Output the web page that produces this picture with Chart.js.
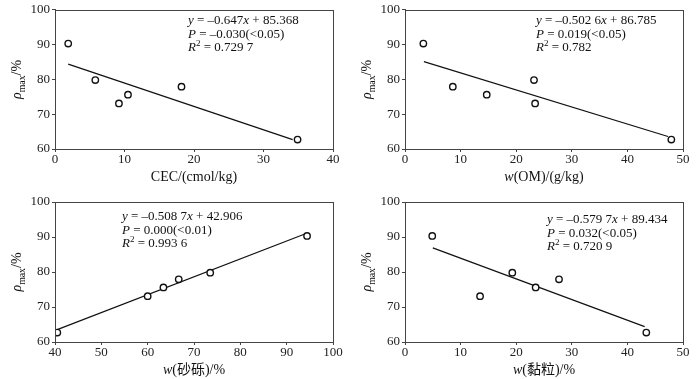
<!DOCTYPE html>
<html>
<head>
<meta charset="utf-8">
<script src="https://cdn.jsdelivr.net/npm/chart.js@4.4.1/dist/chart.umd.min.js"></script>
<style>
    body { margin: 0; background: #fff; width: 700px; height: 379px; position: relative; overflow: hidden; }
    canvas { position: absolute; }
</style>
</head>
<body>
<canvas id="c1" width="350" height="190" style="left:0;top:0"></canvas>
<canvas id="c2" width="350" height="190" style="left:350px;top:0"></canvas>
<canvas id="c3" width="350" height="189" style="left:0;top:190px"></canvas>
<canvas id="c4" width="350" height="189" style="left:350px;top:190px"></canvas>
<script>
// 6 个样点的 ρmax (%)
const rhoMax = [90.3, 79.8, 73.1, 75.6, 77.9, 62.7];
// 各因子
const cec  = [1.9, 5.8, 9.2, 10.5, 18.2, 34.9];
const om   = [3.3, 23.2, 23.4, 14.7, 8.6, 47.9];
const sand = [94.4, 73.5, 60.0, 63.4, 66.7, 40.5];
const clay = [4.9, 19.3, 13.5, 23.5, 27.7, 43.4];

// 拟合线端点
const cecFitX  = [1.9, 34.2],  cecFitY  = [84.4, 62.7];
const omFitX   = [3.4, 47.3],  omFitY   = [85.1, 63.6];
const sandFitX = [40.2, 94.2], sandFitY = [63.4, 91.0];
const clayFitX = [5.0, 43.1],  clayFitY = [86.9, 64.4];

// 刻度
const yTicks     = [60, 70, 80, 90, 100];
const cecTicks   = [0, 10, 20, 30, 40];
const omTicks    = [0, 10, 20, 30, 40, 50];
const sandTicks  = [40, 50, 60, 70, 80, 90, 100];
const clayTicks  = [0, 10, 20, 30, 40, 50];

const SERIF = '"Liberation Serif", "Times New Roman", serif, "Noto Sans CJK SC"';
const AXIS = '#444';

function fontOf(style, size) {
    return (style === 'i' ? 'italic ' : '') + size + 'px ' + SERIF;
}

function segSize(s, size) {
    return (s === 'sub' || s === 'sup') ? size * 0.7 : size;
}

function richWidth(ctx, segs, size) {
    let w = 0;
    segs.forEach(([t, s]) => {
        ctx.font = fontOf(s, segSize(s, size));
        w += ctx.measureText(t).width;
    });
    return w;
}

function drawRich(ctx, segs, x, y, size) {
    segs.forEach(([t, s]) => {
        ctx.font = fontOf(s, segSize(s, size));
        let dy = 0;
        if (s === 'sub') dy = size * 0.25;
        if (s === 'sup') dy = -size * 0.4;
        ctx.fillText(t, x, y + dy);
        x += ctx.measureText(t).width;
    });
}

const yTitle = [['ρ', 'i'], ['max', 'sub'], ['/%', '']];

// 边框、坐标轴标题、公式
const decorPlugin = {
    id: 'decor',
    afterDraw(chart, args, opts) {
        const ctx = chart.ctx;
        const a = chart.chartArea;
        ctx.save();
        ctx.strokeStyle = AXIS;
        ctx.lineWidth = 1;
        ctx.strokeRect(Math.round(a.left) + 0.5, Math.round(a.top) + 0.5,
            Math.round(a.right - a.left), Math.round(a.bottom - a.top));

        ctx.fillStyle = '#111';
        ctx.textBaseline = 'alphabetic';
        ctx.textAlign = 'left';

        // x 轴标题
        const xw = richWidth(ctx, opts.xTitle, 14);
        drawRich(ctx, opts.xTitle, (a.left + a.right) / 2 - xw / 2, a.bottom + 32, 14);

        // y 轴标题
        ctx.save();
        ctx.translate(21, (a.top + a.bottom) / 2);
        ctx.rotate(-Math.PI / 2);
        const yw = richWidth(ctx, yTitle, 14);
        drawRich(ctx, yTitle, -yw / 2, 0, 14);
        ctx.restore();

        // 公式
        opts.eq.forEach((line, i) => {
            drawRich(ctx, line, opts.eqX, opts.eqY + i * 13.5, 13);
        });
        ctx.restore();
    }
};

function makeChart(id, xs, fitX, fitY, xMin, xMax, xTicks, xTitle, eq, eqX, eqY, padTop, xHeight) {
    new Chart(document.getElementById(id), {
        type: 'scatter',
        data: {
            datasets: [{
                data: fitX.map((v, i) => ({ x: v, y: fitY[i] })),
                showLine: true,
                borderColor: '#111',
                borderWidth: 1.2,
                pointRadius: 0,
                order: 2
            }, {
                data: xs.map((v, i) => ({ x: v, y: rhoMax[i] })),
                pointRadius: 3.2,
                pointBorderWidth: 1.4,
                pointBorderColor: '#111',
                pointBackgroundColor: '#fff',
                order: 1
            }]
        },
        options: {
            responsive: false,
            animation: false,
            layout: { padding: { top: padTop, right: 17, left: 0, bottom: 0 } },
            plugins: {
                legend: { display: false },
                tooltip: { enabled: false },
                decor: { xTitle: xTitle, eq: eq, eqX: eqX, eqY: eqY }
            },
            scales: {
                x: {
                    type: 'linear',
                    min: xMin,
                    max: xMax,
                    afterBuildTicks: s => { s.ticks = xTicks.map(v => ({ value: v })); },
                    afterFit: s => { s.height = xHeight; },
                    grid: { drawOnChartArea: false, drawTicks: true, tickLength: 3, color: AXIS },
                    border: { color: AXIS },
                    ticks: { color: '#222', padding: 0, maxRotation: 0, font: { family: SERIF, size: 13 } }
                },
                y: {
                    min: 60,
                    max: 100,
                    afterBuildTicks: s => { s.ticks = yTicks.map(v => ({ value: v })); },
                    afterFit: s => { s.width = 55; },
                    grid: { drawOnChartArea: false, drawTicks: true, tickLength: 3, color: AXIS },
                    border: { color: AXIS },
                    ticks: { color: '#222', padding: 2, font: { family: SERIF, size: 13 } }
                }
            }
        },
        plugins: [decorPlugin]
    });
}

makeChart('c1', cec, cecFitX, cecFitY, 0, 40, cecTicks,
    [['CEC/(cmol/kg)', '']],
    [
        [['y', 'i'], [' = –0.647', ''], ['x', 'i'], [' + 85.368', '']],
        [['P', 'i'], [' = –0.030(<0.05)', '']],
        [['R', 'i'], ['2', 'sup'], [' = 0.729 7', '']]
    ], 188, 24, 7, 41);

makeChart('c2', om, omFitX, omFitY, 0, 50, omTicks,
    [['w', 'i'], ['(OM)/(g/kg)', '']],
    [
        [['y', 'i'], [' = –0.502 6', ''], ['x', 'i'], [' + 86.785', '']],
        [['P', 'i'], [' = 0.019(<0.05)', '']],
        [['R', 'i'], ['2', 'sup'], [' = 0.782', '']]
    ], 186, 24, 7, 41);

makeChart('c3', sand, sandFitX, sandFitY, 40, 100, sandTicks,
    [['w', 'i'], ['(砂砾)/%', '']],
    [
        [['y', 'i'], [' = –0.508 7', ''], ['x', 'i'], [' + 42.906', '']],
        [['P', 'i'], [' = 0.000(<0.01)', '']],
        [['R', 'i'], ['2', 'sup'], [' = 0.993 6', '']]
    ], 122, 30, 12, 37);

makeChart('c4', clay, clayFitX, clayFitY, 0, 50, clayTicks,
    [['w', 'i'], ['(黏粒)/%', '']],
    [
        [['y', 'i'], [' = –0.579 7', ''], ['x', 'i'], [' + 89.434', '']],
        [['P', 'i'], [' = 0.032(<0.05)', '']],
        [['R', 'i'], ['2', 'sup'], [' = 0.720 9', '']]
    ], 197, 33, 12, 37);
</script>
</body>
</html>
